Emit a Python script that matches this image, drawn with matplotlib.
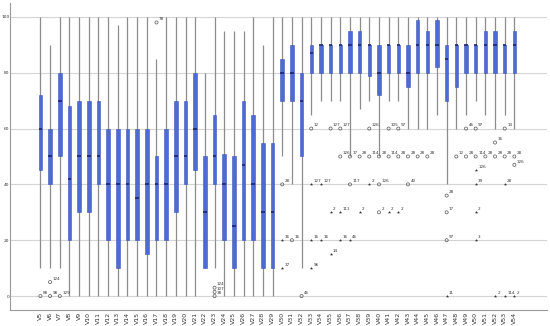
import matplotlib.pyplot as plt
import numpy as np

# box plot per item V5..V54
names = ['V%d' % i for i in range(5, 55)]

whisk_lo = [10, 10, 10, 0, 0, 0, 0, 0, 0, 0, 0, 0, 0, 0, 0, 0, 0, 10, 10, 0,
            0, 0, 0, 0, 0, 50, 40, 10, 65, 70, 70, 70, 50, 67, 70, 50, 70, 70, 60, 60,
            60, 65, 40, 60, 65, 70, 65, 60, 65, 60]
q1 = [45, 40, 50, 20, 30, 30, 40, 20, 10, 20, 20, 15, 20, 20, 30, 40, 45, 10, 40, 20,
      10, 20, 20, 10, 10, 70, 70, 50, 80, 80, 80, 80, 80, 80, 79, 72, 80, 80, 75, 80,
      80, 82, 70, 75, 80, 80, 80, 80, 80, 80]
med = [60, 50, 70, 42, 50, 50, 50, 40, 40, 40, 35, 40, 40, 40, 50, 50, 60, 30, 50, 40,
       25, 47, 40, 30, 30, 80, 80, 70, 87, 90, 90, 90, 90, 90, 90, 80, 90, 90, 80, 90,
       90, 90, 85, 90, 90, 90, 90, 90, 90, 90]
q3 = [72, 60, 80, 68, 70, 70, 70, 60, 60, 60, 60, 60, 50, 60, 70, 70, 80, 50, 65, 51,
      50, 70, 65, 55, 55, 85, 90, 80, 90, 90, 90, 90, 95, 95, 90, 90, 90, 90, 90, 99,
      95, 99, 90, 90, 90, 90, 95, 95, 90, 95]
whisk_hi = [100, 90, 100, 100, 100, 100, 100, 100, 97, 100, 100, 100, 85, 100, 100, 100, 100, 80, 100, 95,
            95, 95, 100, 90, 100, 100, 100, 100, 100, 100, 100, 100, 100, 100, 100, 100, 100, 100, 100, 100,
            100, 100, 100, 100, 100, 100, 100, 100, 100, 100]

# outliers: (item, value, case label, kind)  o = outlier, * = extreme
outliers = [
    ('V5', 0, '88', 'o'), ('V6', 5, '124', 'o'), ('V6', 0, '98', 'o'), ('V7', 0, '129', 'o'),
    ('V17', 98, '78', 'o'),
    ('V23', 3, '124', 'o'), ('V23', 1.5, '107', 'o'), ('V23', 0, '38', 'o'),
    ('V30', 40, '28', 'o'), ('V30', 20, '16', '*'), ('V30', 10, '37', '*'),
    ('V31', 20, '16', 'o'), ('V32', 0, '46', 'o'),
    ('V33', 60, '12', 'o'), ('V33', 40, '127', '*'), ('V33', 20, '16', '*'), ('V33', 10, '96', '*'),
    ('V34', 40, '127', '*'), ('V34', 20, '16', '*'),
    ('V35', 60, '127', 'o'), ('V35', 30, '2', '*'), ('V35', 15, '14', '*'),
    ('V36', 60, '127', 'o'), ('V36', 50, '126', 'o'), ('V36', 30, '111', '*'), ('V36', 20, '16', '*'),
    ('V37', 50, '17', 'o'), ('V37', 40, '117', 'o'), ('V37', 20, '46', '*'),
    ('V38', 50, '28', 'o'), ('V38', 30, '2', '*'),
    ('V39', 60, '126', 'o'), ('V39', 50, '114', 'o'), ('V39', 40, '2', '*'),
    ('V40', 50, '28', 'o'), ('V40', 40, '126', 'o'), ('V40', 30, '2', 'o'),
    ('V41', 60, '105', 'o'), ('V41', 50, '114', 'o'), ('V41', 30, '2', '*'),
    ('V42', 60, '97', 'o'), ('V42', 50, '28', 'o'), ('V42', 30, '2', '*'),
    ('V43', 50, '28', 'o'), ('V43', 40, '40', 'o'),
    ('V44', 50, '28', 'o'), ('V45', 50, '28', 'o'),
    ('V47', 36, '28', 'o'), ('V47', 30, '17', 'o'), ('V47', 20, '97', 'o'), ('V47', 0, '11', '*'),
    ('V48', 50, '12', 'o'),
    ('V49', 60, '46', 'o'), ('V49', 50, '28', 'o'),
    ('V50', 60, '97', 'o'), ('V50', 50, '114', 'o'), ('V50', 45, '126', '*'), ('V50', 40, '39', '*'),
    ('V50', 30, '2', '*'), ('V50', 20, '3', '*'),
    ('V51', 50, '28', 'o'),
    ('V52', 55, '16', 'o'), ('V52', 50, '28', 'o'), ('V52', 0, '2', '*'),
    ('V53', 60, '13', 'o'), ('V53', 50, '28', 'o'), ('V53', 40, '28', '*'), ('V53', 0, '114', '*'),
    ('V54', 50, '28', 'o'), ('V54', 47, '126', 'o'), ('V54', 0, '2', '*'),
]

fig = plt.figure(figsize=(5.5, 3.26), dpi=100)
ax = fig.add_axes([0.019, 0.049, 0.976, 0.942])

x = np.arange(len(names))
q1 = np.array(q1)
q3 = np.array(q3)

for y in range(0, 101, 20):
    ax.axhline(y, color='#d4d4d4', lw=0.8, zorder=0)

ax.vlines(x, whisk_lo, whisk_hi, color='#8c8c8c', lw=0.9, zorder=1)
ax.bar(x, q3 - q1, bottom=q1, width=0.36, color='#4d6bd3', edgecolor='#3f58b8',
       lw=0.4, zorder=2)
ax.hlines(med, x - 0.18, x + 0.18, color='#1c2470', lw=1.2, zorder=3)

for name, val, lab, kind in outliers:
    xi = names.index(name)
    if kind == 'o':
        ax.scatter(xi, val, s=5, facecolors='none', edgecolors='#555555', lw=0.5, zorder=4)
    else:
        ax.scatter(xi, val, s=6, marker='*', color='#333333', lw=0, zorder=4)
    ax.text(xi + 0.25, val + 0.8, lab, fontsize=3, color='#333333', zorder=5)

ax.set_xlim(-3.1, 52.4)
ax.set_ylim(-5, 105)
ax.set_xticks(x)
ax.set_xticklabels(names, rotation=90, fontsize=4.5, color='#333333')
ax.set_yticks(range(0, 101, 20))
ax.set_yticklabels([str(v) for v in range(0, 101, 20)], fontsize=3.2, color='#333333')
ax.tick_params(axis='x', length=0, pad=1.5)
ax.tick_params(axis='y', length=0, pad=0.8)
for s in ['top', 'right']:
    ax.spines[s].set_visible(False)
ax.spines['left'].set_color('#999999')
ax.spines['bottom'].set_color('#999999')
ax.spines['left'].set_linewidth(0.8)
ax.spines['bottom'].set_linewidth(0.8)

fig.savefig('out.png', dpi=100)
